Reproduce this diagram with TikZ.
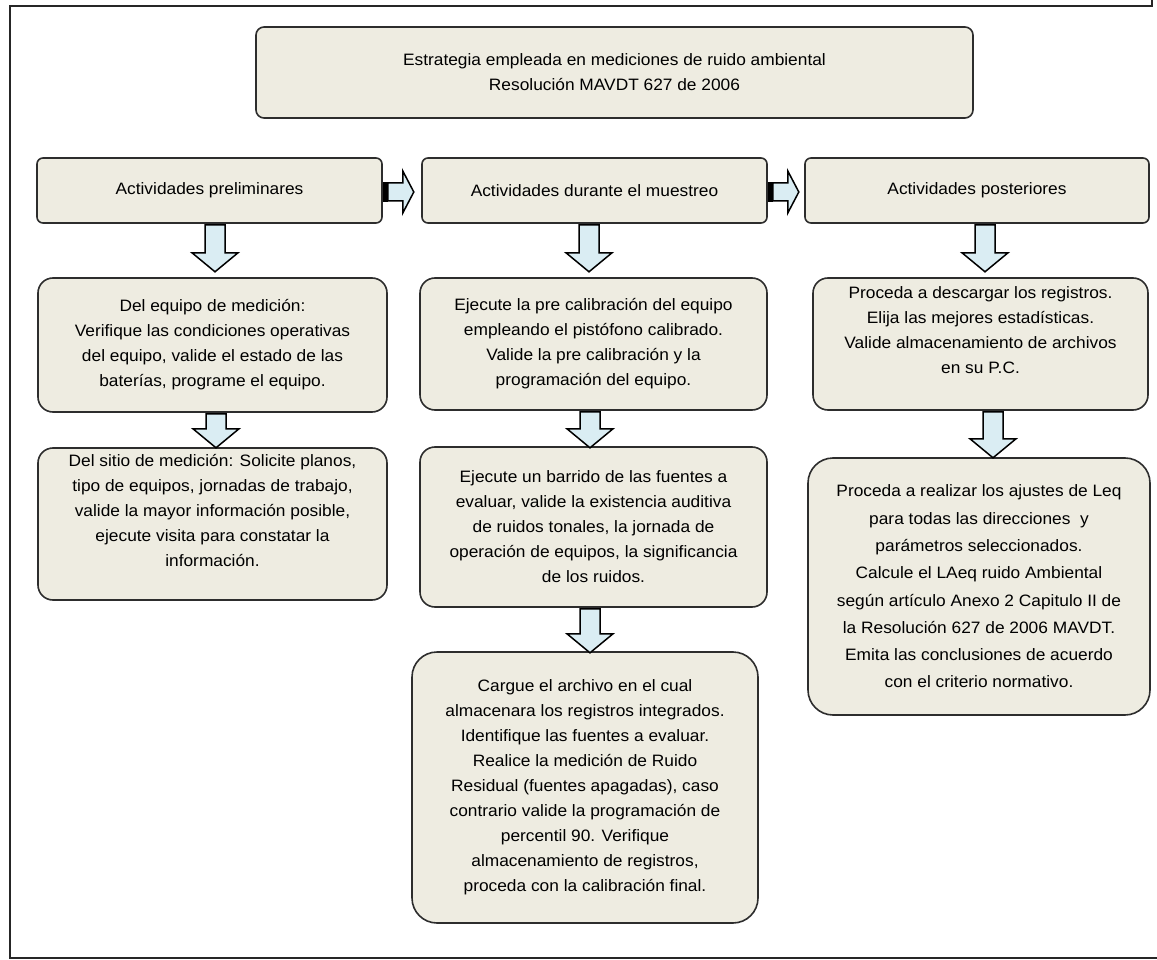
\documentclass[tikz,border=0pt]{standalone}
\usepackage{fontspec}
\setmainfont{Liberation Sans}[FakeStretch=1.05]
\usetikzlibrary{calc}
\definecolor{boxFill}{RGB}{238,236,225}
\definecolor{boxEdge}{RGB}{45,45,45}
\definecolor{arrowFill}{RGB}{218,237,243}
\tikzset{
  % rounded box with the pale beige fill
  box/.style={
    draw=boxEdge, fill=boxFill, line width=1.6pt, rounded corners=15pt,
    align=center, inner sep=4pt, text=black,
    font=\fontsize{16.5}{25}\selectfont
  },
  head/.style={box, rounded corners=6pt, minimum width=345pt, minimum height=65pt},
  tall/.style={box, rounded corners=25pt},
  % the fat arrows between the boxes
  blockarrow/.style={draw=black, fill=arrowFill, line width=1.5pt, line join=miter},
  pics/downblock/.style={code={
    \draw[blockarrow] (-10,0) -- (-10,{#1-19}) -- (-23,{#1-19}) -- (0,#1)
      -- (23,{#1-19}) -- (10,{#1-19}) -- (10,0) -- cycle;}},
  pics/rightblock/.style={code={
    \fill[black] (0,-10) rectangle (5,10);
    \draw[blockarrow] (5,-9) -- (20,-9) -- (20,-21) -- (31,0) -- (20,21)
      -- (20,9) -- (5,9) -- cycle;}},
}
\begin{document}
\begin{tikzpicture}[x=1pt, y=-1pt]
\useasboundingbox (0,0) rectangle (1157,960);

% frame
\draw[line width=2pt, black!85] (1152,0) -- (1152,6) -- (10,6) -- (10,958) -- (1157,958);

% ===========================================================================
% TITLE AND THE THREE PHASES
% ===========================================================================
\node[box, rounded corners=8pt, minimum width=717pt, minimum height=91pt] (title) at (614.5, 72.5)
      {Estrategia empleada en mediciones de ruido ambiental\\
       Resolución MAVDT 627 de 2006};

\node[head] (hdrL) at (209.5, 190.5) {Actividades preliminares};
\node[head] (hdrM) at (594.5, 190.5) {Actividades durante el muestreo};
\node[head, minimum width=344pt] (hdrR) at (977, 190.5) {Actividades posteriores};

\pic at ($(hdrL.east)+(0,1.5)$) {rightblock};
\pic at ($(hdrM.east)+(0,1.5)$) {rightblock};

% ===========================================================================
% LEFT COLUMN: preliminares
% ===========================================================================
\node[box, minimum width=349pt, minimum height=134pt] (pre1) at (212.5, 345)
      {Del equipo de medición:\\
       Verifique las condiciones operativas\\
       del equipo, valide el estado de las\\
       baterías, programe el equipo.};

\node[box, minimum width=349pt, minimum height=152pt] (pre2) at (212.5, 524)
      {Del sitio de medición: Solicite planos,\\
       tipo de equipos, jornadas de trabajo,\\
       valide la mayor información posible,\\
       ejecute visita para constatar la\\
       información.\\[3pt]~};

\pic at ($(hdrL.south)+(5.5,1)$) {downblock=47};
\pic at ($(pre1.south)+(3.5,1)$) {downblock=34};

% ===========================================================================
% CENTER COLUMN: durante el muestreo
% ===========================================================================
\node[box, minimum width=347pt, minimum height=132pt] (mue1) at (593.5, 344)
      {Ejecute la pre calibración del equipo\\
       empleando el pistófono calibrado.\\
       Valide la pre calibración y la\\
       programación del equipo.};

\node[box, minimum width=347pt, minimum height=160pt] (mue2) at (593.5, 527)
      {Ejecute un barrido de las fuentes a\\
       evaluar, valide la existencia auditiva\\
       de ruidos tonales, la jornada de\\
       operación de equipos, la significancia\\
       de los ruidos.};

\node[tall, minimum width=346pt, minimum height=271pt] (mue3) at (585, 787.5)
      {Cargue el archivo en el cual\\
       almacenara los registros integrados.\\
       Identifique las fuentes a evaluar.\\
       Realice la medición de Ruido\\
       Residual (fuentes apagadas), caso\\
       contrario valide la programación de\\
       percentil 90. Verifique\\
       almacenamiento de registros,\\
       proceda con la calibración final.};

\pic at ($(hdrM.south)+(-5.5,1)$) {downblock=47};
\pic at ($(mue1.south)+(-3.5,1)$) {downblock=36};
\pic at ($(mue2.south)+(-3.5,1)$) {downblock=44};

% ===========================================================================
% RIGHT COLUMN: posteriores
% ===========================================================================
\node[box, minimum width=335pt, minimum height=132pt] (pos1) at (980.5, 344)
      {Proceda a descargar los registros.\\
       Elija las mejores estadísticas.\\
       Valide almacenamiento de archivos\\
       en su P.C.\\[3pt]~};

\node[tall, minimum width=342pt, minimum height=257pt,
      font=\fontsize{16.5}{27.3}\selectfont] (pos2) at (979, 586.5)
      {Proceda a realizar los ajustes de Leq\\
       para todas las direcciones\ \ y\\
       parámetros seleccionados.\\
       Calcule el LAeq ruido Ambiental\\
       según artículo Anexo 2 Capitulo II de\\
       la Resolución 627 de 2006 MAVDT.\\
       Emita las conclusiones de acuerdo\\
       con el criterio normativo.};

\pic at ($(hdrR.south)+(8,1)$) {downblock=47};
\pic at ($(pos1.south)+(12.5,1)$) {downblock=46};

\end{tikzpicture}
\end{document}
